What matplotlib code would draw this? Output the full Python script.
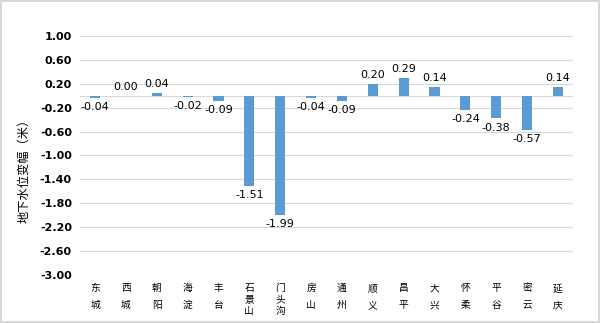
import matplotlib.pyplot as plt
import numpy as np

plt.rcParams['font.family'] = ['DejaVu Sans', 'Noto Sans CJK SC']

districts = ["东城", "西城", "朝阳", "海淀", "丰台", "石景山", "门头沟", "房山",
             "通州", "顺义", "昌平", "大兴", "怀柔", "平谷", "密云", "延庆"]
changes = [-0.04, 0.00, 0.04, -0.02, -0.09, -1.51, -1.99, -0.04,
           -0.09, 0.20, 0.29, 0.14, -0.24, -0.38, -0.57, 0.14]
yticks = [1.00, 0.60, 0.20, -0.20, -0.60, -1.00, -1.40, -1.80, -2.20, -2.60, -3.00]

fig = plt.figure(figsize=(6, 3.23), dpi=100)
fig.patch.set_edgecolor('#d9d9d9')
fig.patch.set_linewidth(1.5)
ax = fig.add_axes([0.1327, 0.1486, 0.823, 0.74])

x = np.arange(len(districts))
ax.bar(x, changes, width=0.33, color='#5b9bd5', zorder=3)

ax.set_xlim(-0.5, len(districts) - 0.5)
ax.set_ylim(-3.0, 1.0)
ax.set_yticks(yticks)
ax.set_yticklabels([f"{v:.2f}" for v in yticks], fontsize=8, fontweight='bold')
ax.yaxis.grid(True, color='#d9d9d9', linewidth=0.8, zorder=0)
ax.axhline(0, color='#d9d9d9', linewidth=0.8, zorder=1)
for s in ax.spines.values():
    s.set_visible(False)
ax.tick_params(axis='both', length=0)
ax.tick_params(axis='y', pad=5.5)

ax.set_xticks(x)
ax.set_xticklabels(["\n".join(d) for d in districts], fontsize=7,
                   family=['Noto Sans CJK SC'], va='top')
for lab, d in zip(ax.get_xticklabels(), districts):
    lab.set_linespacing(1.85 if len(d) == 2 else 1.15)
ax.tick_params(axis='x', pad=6)

for xi, v in zip(x, changes):
    if v >= 0:
        ax.annotate(f"{v:.2f}", (xi, v), xytext=(0, 3), textcoords='offset points',
                    ha='center', va='bottom', fontsize=8)
    else:
        ax.annotate(f"{v:.2f}", (xi, v), xytext=(0, -3), textcoords='offset points',
                    ha='center', va='top', fontsize=8)

ax.set_ylabel("地下水位变幅（米）", family=['Noto Sans CJK SC'], fontsize=8.8)
ax.yaxis.set_label_coords(-0.1, 0.448)

fig.savefig("out.png", dpi=100, edgecolor=fig.get_edgecolor())
